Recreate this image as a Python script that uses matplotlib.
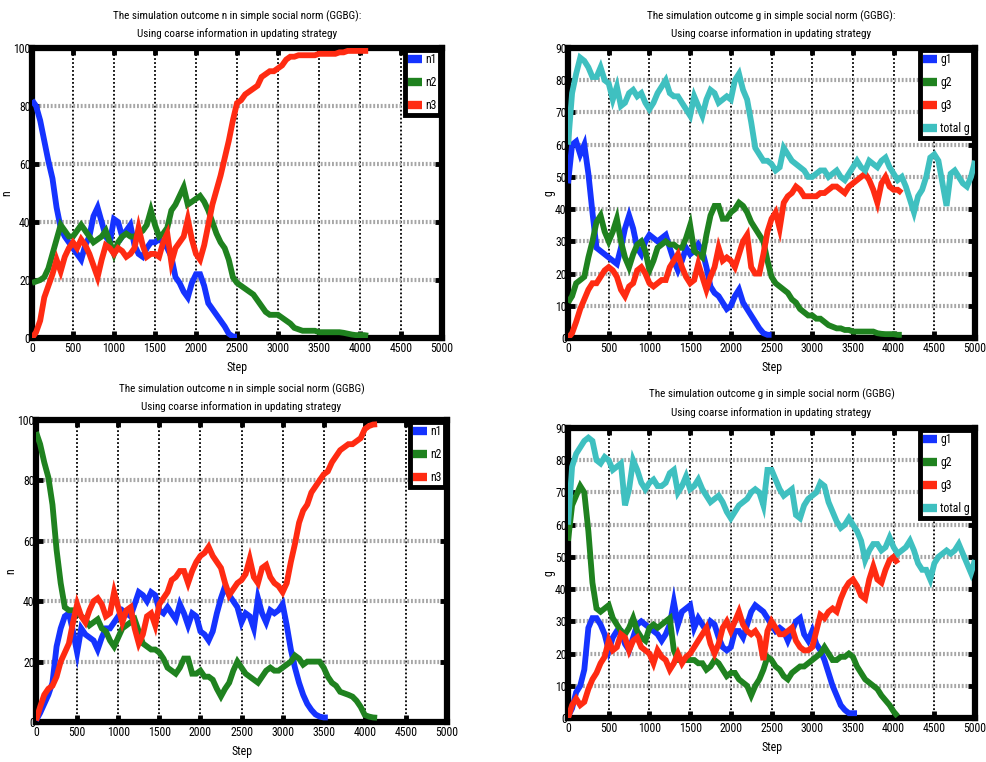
import matplotlib
matplotlib.use("Agg")
import matplotlib.pyplot as plt

plt.rcParams['font.family'] = ['Roboto Condensed', 'DejaVu Sans']

# ---------------- data (sampled every 50 steps) ----------------
steps = list(range(0, 5001, 50))

# Panel 1: n, run 1
n1_a = [82, 80, 75, 68, 61, 55, 45, 38, 35, 33, 31, 29, 27, 32, 35, 42, 45, 40, 35, 33,
        41, 40, 35, 37, 39, 32, 29, 28, 31, 33, 33, 34, 33, 31, 28, 21, 19, 16, 14, 19,
        22, 22, 18, 12, 10, 8, 6, 4, 1.5, 0.5, 0.5]
n2_a = [19, 19.5, 20, 21, 24, 29, 34, 39, 37, 35, 35, 37, 39, 37, 35, 33, 34, 35, 37, 33,
        29, 33, 35, 36, 35, 35, 36, 37, 39, 44, 39, 35, 36, 38, 44, 46, 49, 52, 46, 47,
        48, 49, 47, 44, 40, 36, 33, 31, 27, 21, 19, 18, 17, 16, 15, 13, 11, 9, 8, 8,
        8, 7, 6, 5, 3.5, 3, 2.5, 2.5, 2.5, 2.5, 2, 2, 2, 2, 2, 2, 1.8, 1.5, 1.2, 1,
        1, 1, 0.8]
n3_a = [0, 2, 6, 14, 18, 22, 27, 23, 28, 31, 33, 31, 34, 32, 29, 25, 21, 27, 32, 31,
        29, 31, 30, 28, 29, 31, 38, 32, 28, 29, 29, 28, 33, 36, 26, 31, 33, 35, 41, 34,
        29, 27, 32, 39, 46, 51, 56, 62, 68, 75, 81, 82, 84, 85, 86, 87, 90, 91, 92, 92,
        93, 94, 96, 97, 97, 97.5, 97.5, 97.5, 97.5, 97.5, 98, 98, 98, 98, 98, 98.5, 98.5, 99, 99, 99,
        99, 99, 99]

# Panel 2: g, run 1
g1_a = [48, 60, 61, 57, 60, 51, 39, 28, 27, 26, 25, 24, 23, 28, 34, 38, 34, 28, 26, 30,
        32, 31, 30, 31, 32, 28, 24, 21, 24, 28, 26, 27, 29, 27, 22, 16, 14, 13, 11, 9,
        10, 13, 15, 11, 9, 7, 5, 3, 1.5, 1, 1]
g2_a = [11, 13, 17, 18, 19, 25, 30, 36, 38, 33, 30, 33, 37, 30, 25, 22, 26, 29, 30, 27,
        21, 24, 28, 29, 30, 29, 29, 28, 28, 31, 35, 27, 26, 25, 32, 38, 41, 41, 37, 37,
        39, 40, 42, 41, 39, 36, 34, 32, 30, 24, 19, 17, 16, 15, 14, 12, 11, 9, 8, 7,
        7, 6, 6, 5, 4, 3.5, 3, 3, 2.5, 2.5, 2, 2, 2, 2, 2, 2, 1.5, 1.3, 1.2, 1.2,
        1.2, 1, 1]
g3_a = [0, 1.5, 5, 9, 12, 15, 17, 17, 19, 21, 22, 21, 19, 15, 13, 16, 17, 21, 22, 20,
        17, 16, 17, 18, 18, 22, 24, 26, 22, 19, 17, 18, 23, 19, 15, 19, 22, 28, 24, 25,
        24, 22, 26, 30, 32, 22, 20, 20, 26, 33, 37, 39, 34, 42, 44, 45, 47, 46, 44, 44,
        44, 44, 45, 45, 46, 47, 47, 46, 45, 47, 48, 49, 50, 51, 49, 46, 42, 48, 50, 47,
        46, 46, 45]
gt_a = [60, 76, 82, 87, 86, 84, 81, 81, 84, 80, 79, 74, 78, 72, 73, 76, 77, 75, 76, 73,
        71, 73, 76, 78, 80, 76, 75, 75, 73, 71, 69, 75, 72, 69, 74, 77, 76, 73, 74, 75,
        74, 80, 82, 77, 74, 67, 59, 57, 55, 55, 54, 52, 53, 59, 57, 55, 54, 53, 52, 50,
        50, 51, 52, 52, 50, 51, 52, 50, 49, 51, 53, 55, 53, 52, 55, 54, 53, 55, 56, 53,
        51, 49, 50, 47, 43, 39, 44, 46, 50, 56, 57, 55, 48, 41, 51, 52, 50, 48, 47, 50,
        55]

# Panel 3: n, run 2
n1_b = [0.5, 3, 6, 9, 13, 25, 31, 35, 36, 30, 23, 31, 29, 28, 27, 24, 28, 31, 31, 33,
        35, 37, 36, 35, 39, 43, 42, 40, 43, 42, 37, 36, 38, 36, 34, 39, 36, 32, 36, 35,
        30, 29, 27, 30, 36, 41, 45, 42, 40, 38, 33, 36, 35, 31, 41, 36, 33, 37, 36, 37,
        39, 32, 24, 18, 13, 9, 6, 4, 2.5, 1.8, 1.5, 1.5]
n2_b = [96, 92, 86, 81, 72, 57, 46, 38, 37, 37, 36, 35, 34, 32, 33, 34, 31, 30, 27, 25,
        28, 31, 32, 33, 34, 30, 26, 25, 24, 24, 23, 21, 18, 17, 16, 18, 21, 21, 16, 16,
        17, 15, 15, 14, 11, 8.5, 11, 13, 17, 20, 18, 16, 15, 14, 13, 15, 17, 18, 17, 17,
        18, 19, 20, 22, 21, 19, 20, 20, 20, 20, 18, 15, 13, 12, 10, 9.5, 9, 8.4, 7, 5,
        2.3, 1.8, 1.5, 1.4]
n3_b = [0.5, 5, 9, 11, 12, 15, 20, 23, 26, 33, 39, 35, 33, 37, 40, 41, 39, 35, 36, 43,
        38, 33, 37, 38, 31, 26, 29, 35, 36, 32, 39, 41, 43, 47, 48, 50, 50, 46, 50, 53,
        55, 56, 58, 55, 53, 51, 46, 42, 44, 46, 47, 49, 54, 48, 46, 51, 52, 48, 46, 45,
        43, 46, 53, 59, 66, 70, 72, 76, 78, 80, 82, 83, 86, 88, 90, 91, 92, 92, 93, 94,
        97, 98, 98.5, 98.6]

# Panel 4: g, run 2
g1_b = [0.5, 3, 8, 10, 15, 28, 31, 31, 29, 26, 21, 25, 27, 27, 23, 21, 25, 29, 30, 29,
        28, 27, 26, 24, 26, 29, 36, 29, 33, 34, 35, 28, 31, 29, 27, 30, 29, 25, 22, 21,
        22, 27, 27, 25, 29, 33, 35, 34, 33, 31, 29, 27, 28, 27, 24, 27, 30, 31, 26, 24,
        27, 23, 21, 18, 14, 10, 7, 4, 2.5, 1.5, 1.5, 1.5]
g2_b = [55, 66, 69, 72, 70, 58, 42, 34, 33, 34, 35, 31, 29, 27, 26, 28, 31, 27, 25, 24,
        28, 29, 28, 29, 30, 31, 21, 18, 18, 18, 18, 18, 17, 17, 15, 16, 18, 17, 15, 13,
        14, 14, 12, 11, 10, 7, 10, 12, 15, 19, 18, 16, 15, 13, 12, 14, 15, 16, 16, 17,
        18, 19, 20, 22, 20, 18, 18, 19, 19, 20, 19, 16, 14, 12, 11, 10, 9, 7, 5.5, 4,
        2, 0.5]
g3_b = [0, 4, 6, 4, 5, 9, 12, 14, 17, 19, 24, 21, 22, 26, 25, 21, 24, 25, 22, 21,
        20, 17, 21, 19, 18, 15, 17, 20, 17, 19, 20, 22, 24, 26, 28, 23, 20, 23, 28, 30,
        27, 30, 33, 29, 27, 26, 27, 25, 18, 27, 30, 28, 26, 26, 27, 28, 24, 22, 21, 21,
        22, 27, 32, 31, 33, 34, 33, 37, 40, 42, 43, 41, 38, 37, 43, 47, 43, 42, 46, 49,
        50, 48]
gt_b = [60, 78, 82, 84, 86, 87, 86, 80, 79, 81, 80, 77, 78, 79, 66, 71, 80, 77, 73, 71,
        73, 74, 72, 72, 73, 76, 77, 70, 72, 75, 71, 72, 74, 71, 69, 67, 68, 69, 67, 64,
        62, 64, 66, 67, 68, 70, 71, 70, 66, 77, 77, 74, 71, 69, 70, 71, 63, 62, 66, 68,
        69, 70, 73, 72, 67, 64, 61, 59, 60, 62, 60, 58, 55, 49, 52, 54, 54, 52, 53, 56,
        53, 51, 52, 53, 55, 52, 48, 46, 46, 43, 48, 50, 51, 52, 51, 52, 54, 51, 48, 45,
        49]

BLUE = '#1533ff'
GREEN = '#1f821f'
RED = '#ff2b12'
TEAL = '#3fc0c0'

panels = [
    dict(rect=[0.0324, 0.5564, 0.4154, 0.3806], series=[(n1_a, BLUE, 'n1'), (n2_a, GREEN, 'n2'), (n3_a, RED, 'n3')],
         ymax=100, ystep=20, ylabel='n', tpad=8,
         title='The simulation outcome n in simple social norm (GGBG):\nUsing coarse information in updating strategy'),
    dict(rect=[0.5755, 0.5564, 0.4124, 0.3806], series=[(g1_a, BLUE, 'g1'), (g2_a, GREEN, 'g2'), (g3_a, RED, 'g3'), (gt_a, TEAL, 'total g')],
         ymax=90, ystep=10, ylabel='g', tpad=8,
         title='The simulation outcome g in simple social norm (GGBG):\nUsing coarse information in updating strategy'),
    dict(rect=[0.0365, 0.0525, 0.4164, 0.3963], series=[(n1_b, BLUE, 'n1'), (n2_b, GREEN, 'n2'), (n3_b, RED, 'n3')],
         ymax=100, ystep=20, ylabel='n', tpad=7,
         title='The simulation outcome n in simple social norm (GGBG)\nUsing coarse information in updating strategy'),
    dict(rect=[0.5755, 0.0577, 0.4124, 0.3806], series=[(g1_b, BLUE, 'g1'), (g2_b, GREEN, 'g2'), (g3_b, RED, 'g3'), (gt_b, TEAL, 'total g')],
         ymax=90, ystep=10, ylabel='g', tpad=9,
         title='The simulation outcome g in simple social norm (GGBG)\nUsing coarse information in updating strategy'),
]

fig = plt.figure(figsize=(9.87, 7.62), dpi=100)

for p in panels:
    ax = fig.add_axes(p['rect'])
    ax.set_xlim(0, 5000)
    ax.set_ylim(0, p['ymax'])
    xt = list(range(0, 5001, 500))
    yt = list(range(0, p['ymax'] + 1, p['ystep']))
    ax.set_xticks(xt)
    ax.set_yticks(yt)
    for x in xt[1:-1]:
        ax.axvline(x, color='black', lw=1.3, ls=(0, (1, 1.2)), zorder=1)
    for y in yt[1:-1]:
        ax.axhline(y, color='#a6a6a6', lw=3.0, ls=(0, (0.45, 0.45)), zorder=1)
    for vals, col, lab in p['series']:
        ax.plot(steps[:len(vals)], vals, color=col, lw=4.2, label=lab, zorder=3,
                solid_joinstyle='miter', solid_capstyle='butt')
    for s in ax.spines.values():
        s.set_linewidth(4.5)
        s.set_color('black')
    ax.tick_params(direction='in', length=5, width=3.5, top=True, right=True,
                   labelsize=8.5, colors='black')
    ax.tick_params(axis='x', pad=3)
    ax.tick_params(axis='y', pad=1)
    ax.set_xlabel('Step', fontsize=8.5, labelpad=4)
    ax.set_ylabel(p['ylabel'], fontsize=8.5, labelpad=0)
    ax.set_title(p['title'], fontsize=8, linespacing=1.7, pad=p['tpad'])
    leg = ax.legend(loc='upper right', fontsize=8.5, handlelength=1.2, handleheight=0.7,
                    handletextpad=0.25, borderpad=0.25, labelspacing=0.85,
                    borderaxespad=0.2, fancybox=False, framealpha=1)
    leg.get_frame().set_edgecolor('black')
    leg.get_frame().set_linewidth(3.5)
    for h in leg.get_lines():
        h.set_linewidth(6)
        h.set_solid_capstyle('butt')

fig.savefig('out.png', dpi=100)
